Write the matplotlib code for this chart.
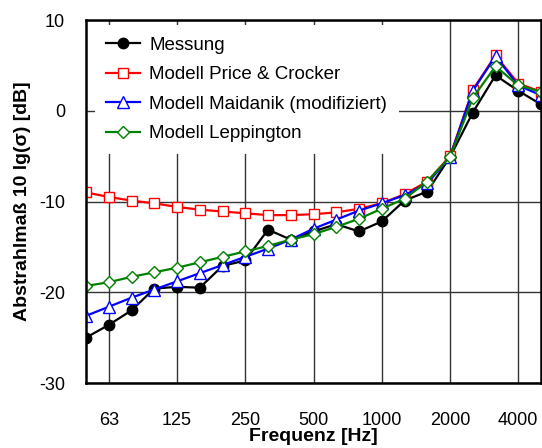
import numpy as np
import matplotlib.pyplot as plt

plt.rcParams['font.family'] = ['Liberation Sans', 'DejaVu Sans']
plt.rcParams['axes.unicode_minus'] = False

freqs = ['50', '63', '80', '100', '125', '160', '200', '250', '315', '400', '500',
         '630', '800', '1000', '1250', '1600', '2000', '2500', '3150', '4000', '5000']
tick_labels = ['63', '125', '250', '500', '1000', '2000', '4000']

messung = [-25.0, -23.6, -22.0, -19.6, -19.4, -19.5, -17.1, -16.5, -13.1, -14.2, -13.3,
           -12.5, -13.3, -12.2, -9.9, -8.9, -5.1, -0.2, 3.9, 2.2, 0.7]
price_crocker = [-9.0, -9.5, -9.9, -10.2, -10.6, -10.9, -11.1, -11.3, -11.5, -11.5, -11.4,
                 -11.2, -10.8, -10.2, -9.2, -7.8, -5.0, 2.3, 6.1, 3.0, 2.1]
maidanik = [-22.6, -21.6, -20.6, -19.7, -18.8, -17.9, -17.0, -16.1, -15.2, -14.2, -13.0,
            -12.0, -11.0, -10.2, -9.3, -8.0, -5.1, 2.2, 6.0, 2.8, 1.7]
leppington = [-19.3, -18.9, -18.3, -17.8, -17.3, -16.7, -16.1, -15.5, -14.9, -14.2, -13.6,
              -12.8, -11.9, -10.8, -9.7, -7.8, -5.1, 1.4, 4.9, 2.8, 2.1]

x = np.arange(len(freqs))

fig = plt.figure(figsize=(5.42, 4.48), dpi=100)
ax = fig.add_axes([86/542, 65/448, 455/542, 363/448])

ax.plot(x, messung, color='black', lw=1.6, marker='o', ms=7.5, label='Messung')
ax.plot(x, price_crocker, color='red', lw=1.6, marker='s', ms=7.5, mfc='white',
        label='Modell Price & Crocker')
ax.plot(x, maidanik, color='blue', lw=1.6, marker='^', ms=8.5, mfc='white',
        label='Modell Maidanik (modifiziert)')
ax.plot(x, leppington, color='green', lw=1.6, marker='D', ms=6.5, mfc='white',
        label='Modell Leppington')

ax.set_xlim(0, len(freqs) - 1)
ax.set_ylim(-30, 10)
ax.set_xticks([freqs.index(t) for t in tick_labels])
ax.set_xticklabels(tick_labels)
ax.set_yticks([-30, -20, -10, 0, 10])
ax.tick_params(axis='both', length=0, labelsize=13)
ax.tick_params(axis='x', pad=21)
ax.tick_params(axis='y', pad=15)
ax.grid(True, color='#333333', lw=1)
ax.set_axisbelow(True)
for s in ax.spines.values():
    s.set_linewidth(1.8)

ax.set_xlabel('Frequenz [Hz]', fontsize=14, fontweight='bold', labelpad=-1)
ax.set_ylabel('Abstrahlmaß 10 lg(σ) [dB]', fontsize=14, fontweight='bold', labelpad=6)

leg = ax.legend(loc='upper left', bbox_to_anchor=(0.02, 0.985), fontsize=13.5,
                frameon=True, fancybox=False, framealpha=1, edgecolor='none',
                handlelength=1.8, handletextpad=0.5, labelspacing=0.66,
                borderpad=0.6, borderaxespad=0)

fig.savefig('out.png', dpi=100)
